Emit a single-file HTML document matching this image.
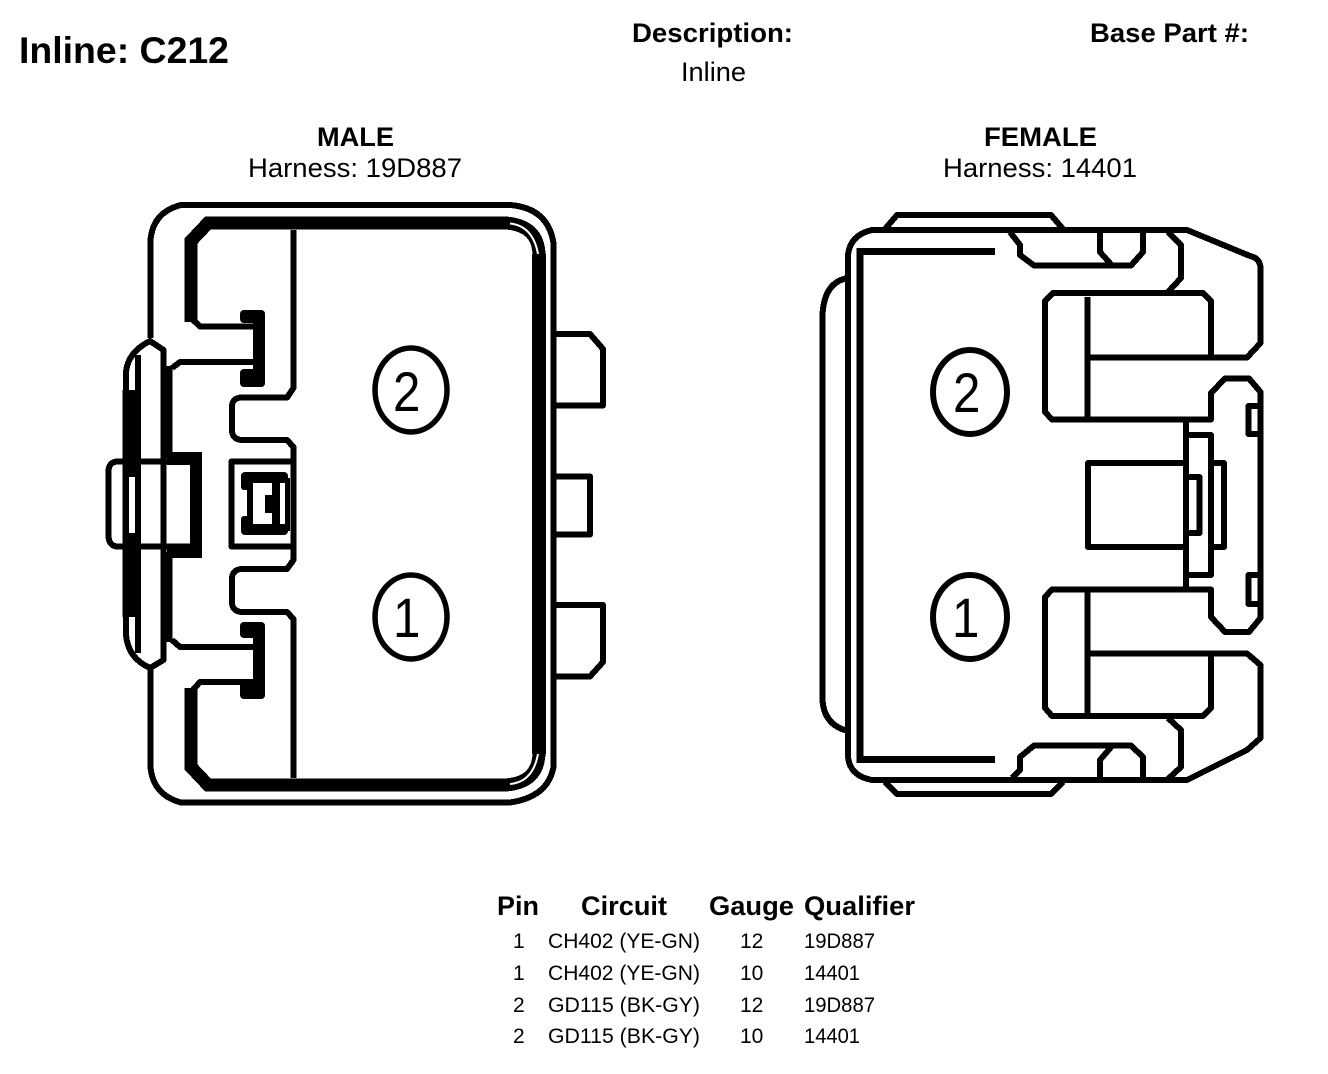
<!DOCTYPE html>
<html>
<head>
<meta charset="utf-8">
<style>
html,body{margin:0;padding:0;background:#fff;}
svg{display:block;}
text{font-family:"Liberation Sans",sans-serif;fill:#000;}
.b{font-weight:bold;}
.s{fill:none;stroke:#000;stroke-width:6;stroke-linejoin:round;}
.t{font-size:21px;}
.h{font-size:27px;font-weight:bold;}
</style>
</head>
<body>
<svg width="1328" height="1074" viewBox="0 0 1328 1074" xmlns="http://www.w3.org/2000/svg">
<rect width="1328" height="1074" fill="#fff"/>

<text x="19" y="63" class="b" font-size="37" textLength="210" lengthAdjust="spacingAndGlyphs">Inline: C212</text>
<text x="632" y="42" class="b" font-size="27" textLength="161" lengthAdjust="spacingAndGlyphs">Description:</text>
<text x="681" y="81" font-size="27" textLength="65" lengthAdjust="spacingAndGlyphs">Inline</text>
<text x="1090" y="42" class="b" font-size="27" textLength="159" lengthAdjust="spacingAndGlyphs">Base Part #:</text>
<text x="317" y="146" class="b" font-size="27" textLength="77" lengthAdjust="spacingAndGlyphs">MALE</text>
<text x="248" y="177" font-size="27" textLength="214" lengthAdjust="spacingAndGlyphs">Harness: 19D887</text>
<text x="984" y="146" class="b" font-size="27" textLength="113" lengthAdjust="spacingAndGlyphs">FEMALE</text>
<text x="943" y="177" font-size="27" textLength="194" lengthAdjust="spacingAndGlyphs">Harness: 14401</text>

<!-- MALE -->
<g class="s" shape-rendering="crispEdges">
<path d="M150.5,338 V240 Q153,212 181,205 H510 Q548,208 553.5,243 V767 Q548,797 510,802.5 H181 Q153,795 150.5,767 V668"/>
<path d="M553,334 H590 L603,349 V405.5 H553"/>
<path d="M553,476.5 H590 V534.5 H553"/>
<path d="M553,605 H603 V662 L590,676.5 H553"/>
<path d="M191,322 V241 L208,223 H505 Q539,225 539,256 V752 Q539,783 505,785 H208 L191,767 V688" style="stroke-width:13;stroke-linejoin:miter"/>
<path d="M191,318 L200,326.5 H256"/>
<path d="M191,692 L200,682 H256"/>
<path d="M256,362 H180 L172,368"/>
<path d="M256,647 H180 L172,640"/>
<path d="M293.5,230 V388 L287,397.5 H241 Q232,398 232,407 V430 Q232,439 241,440 H287 L293.5,447 V560 L287,569 H241 Q232,570 232,579 V602 Q232,611 241,612 H287 L293.5,619 V778"/>
<path d="M291,461.5 H231.5 V546.5 H291"/>
<path d="M126,372 Q128,352 150,341 L163.5,350 V660 L150,668 Q128,658 126,635 Z"/>
<path d="M118,461.5 Q108.5,461.5 108.5,472 V535 Q108.5,546.5 118,546.5 H195 M118,461.5 H195"/>
</g>
<path d="M510,223.5 Q533,226 538,254 M510,784 Q533,782 538,754" fill="none" stroke="#fff" stroke-width="2"/>
<g fill="#000" stroke="none">
<rect x="532" y="254" width="14" height="500"/>
<rect x="122.5" y="390" width="18.5" height="227"/>
<rect x="135" y="355" width="6" height="298"/>
<rect x="160.5" y="366" width="12" height="92"/>
<rect x="160.5" y="552" width="12" height="90"/>
<rect x="167" y="452" width="35" height="13"/>
<rect x="190" y="452" width="12" height="106"/>
<rect x="167" y="545" width="35" height="13"/>
<rect x="240" y="310" width="25" height="13" rx="4"/>
<rect x="253" y="310" width="12" height="77" rx="4"/>
<rect x="240" y="369" width="25" height="18" rx="4"/>
<rect x="240" y="622" width="25" height="16" rx="4"/>
<rect x="253" y="622" width="12" height="77" rx="4"/>
<rect x="240" y="682" width="25" height="17" rx="4"/>
<rect x="241" y="472" width="47" height="11" rx="4"/>
<rect x="241" y="524" width="47" height="11" rx="4"/>
<rect x="241" y="474" width="12" height="16" rx="3"/>
<rect x="241" y="516" width="12" height="17" rx="3"/>
<rect x="247" y="480" width="6" height="50"/>
<rect x="265" y="495" width="15" height="18"/>
<rect x="272" y="480" width="8" height="46"/>
<rect x="285" y="478" width="5" height="53"/>
</g>
<rect x="129" y="477" width="6" height="56" fill="#fff"/>

<ellipse cx="411" cy="390" rx="36" ry="42" fill="none" stroke="#000" stroke-width="5.5"/>
<ellipse cx="411" cy="617" rx="36" ry="42" fill="none" stroke="#000" stroke-width="5.5"/>
<text transform="translate(393,411) scale(0.88,1)" font-size="56">2</text>
<text transform="translate(393,637) scale(0.88,1)" font-size="56">1</text>

<!-- FEMALE -->
<g class="s" shape-rendering="crispEdges">
<path d="M848,757 V255 Q850,235 872,230 H1187 L1250,256 Q1260,258 1260.5,268 V343 L1247,357.5 H1087.5"/>
<path d="M848,757 Q850,776 872,780 H1187 L1247,750 L1260.5,738 V665 L1247,653.5 H1087.5"/>
<path d="M885,229 L897,215 H1051 L1063,229"/>
<path d="M885,782 L897,794 H1051 L1063,782"/>
<path d="M995,251.5 H860 V759.5 H995" style="stroke-width:7;stroke-linejoin:miter"/>
<path d="M848,278 Q824,282 822.5,315 V700 Q824,725 848,731"/>
<path d="M1010,232 L1020,245 V255 L1034,265.5 H1131 L1143,252 V232"/>
<path d="M1100,232 V252 L1112,265.5"/>
<path d="M1012,778 L1020,770 V757 L1034,745.5 H1131 L1143,757 V778"/>
<path d="M1100,778 V760 L1112,746"/>
<path d="M1168,232 L1181,245 V278 L1168,292"/>
<path d="M1168,718 L1181,730 V767 L1168,779"/>
<path d="M1211,357 V301 L1203,293 H1053 L1045,301 V412 L1052,419.5 H1211 V393 L1225,378.5 H1249 L1260.5,392 V618 L1249,632 H1225 L1211,617 V589.5 H1052 L1045,597 V708 L1052,716 H1203 L1211,708 V653"/>
<path d="M1087.5,297 V419 M1087.5,592 V716"/>
<path d="M1186,420 V590"/>
<path d="M1186,435 H1211 V575 H1186"/>
<path d="M1186,463 H1088 V547 H1186"/>
<path d="M1186,477 H1199.5 V533 H1186"/>
<path d="M1211,463 H1224 V547 H1211"/>
<path d="M1260,406 H1248.5 V434 H1260"/>
<path d="M1260,575 H1248.5 V604 H1260"/>
</g>

<ellipse cx="970" cy="392" rx="37" ry="42" fill="none" stroke="#000" stroke-width="6"/>
<ellipse cx="970" cy="617" rx="37" ry="42" fill="none" stroke="#000" stroke-width="6"/>
<text transform="translate(953,412) scale(0.88,1)" font-size="56">2</text>
<text transform="translate(952,637) scale(0.88,1)" font-size="56">1</text>

<!-- TABLE -->
<text x="497" y="915" class="h" textLength="42" lengthAdjust="spacingAndGlyphs">Pin</text>
<text x="581" y="915" class="h" textLength="86" lengthAdjust="spacingAndGlyphs">Circuit</text>
<text x="709" y="915" class="h" textLength="85" lengthAdjust="spacingAndGlyphs">Gauge</text>
<text x="804" y="915" class="h" textLength="111" lengthAdjust="spacingAndGlyphs">Qualifier</text>

<text x="513" y="948" class="t">1</text>
<text x="548" y="948" class="t" textLength="152" lengthAdjust="spacingAndGlyphs">CH402 (YE-GN)</text>
<text x="740" y="948" class="t">12</text>
<text x="804" y="948" class="t" textLength="71" lengthAdjust="spacingAndGlyphs">19D887</text>

<text x="513" y="980" class="t">1</text>
<text x="548" y="980" class="t" textLength="152" lengthAdjust="spacingAndGlyphs">CH402 (YE-GN)</text>
<text x="740" y="980" class="t">10</text>
<text x="804" y="980" class="t" textLength="56" lengthAdjust="spacingAndGlyphs">14401</text>

<text x="513" y="1012" class="t">2</text>
<text x="548" y="1012" class="t" textLength="152" lengthAdjust="spacingAndGlyphs">GD115 (BK-GY)</text>
<text x="740" y="1012" class="t">12</text>
<text x="804" y="1012" class="t" textLength="71" lengthAdjust="spacingAndGlyphs">19D887</text>

<text x="513" y="1043" class="t">2</text>
<text x="548" y="1043" class="t" textLength="152" lengthAdjust="spacingAndGlyphs">GD115 (BK-GY)</text>
<text x="740" y="1043" class="t">10</text>
<text x="804" y="1043" class="t" textLength="56" lengthAdjust="spacingAndGlyphs">14401</text>
</svg>
</body>
</html>
